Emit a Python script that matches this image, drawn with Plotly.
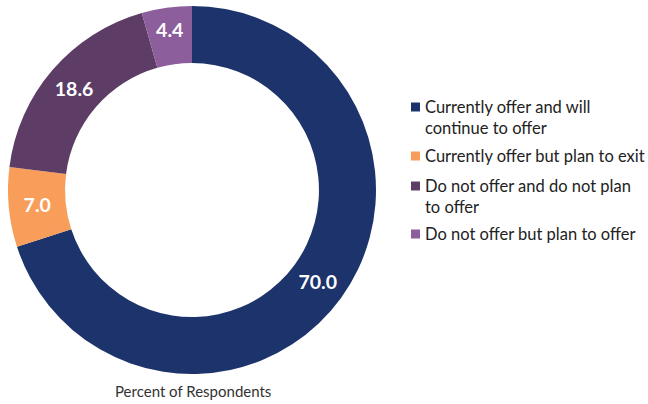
import plotly.graph_objects as go

# Survey response shares (percent of respondents)
categories = [
    "Currently offer and will<br>continue to offer",
    "Currently offer but plan to exit",
    "Do not offer and do not plan<br>to offer",
    "Do not offer but plan to offer",
]
values = [70.0, 7.0, 18.6, 4.4]
colors = ["#1D336B", "#F89D5A", "#5D3D65", "#8C5E9B"]

W, H = 648, 404
FONT = "Lato"

fig = go.Figure(
    go.Pie(
        labels=categories,
        values=values,
        hole=0.69,
        sort=False,
        direction="clockwise",
        rotation=0,
        marker=dict(colors=colors, line=dict(width=0)),
        texttemplate="%{value:.1f}",
        textposition="inside",
        insidetextorientation="horizontal",
        textfont=dict(family=FONT, size=19.5, color="white", weight="bold"),
        hoverinfo="label+value",
        showlegend=False,
        domain=dict(x=[8 / W, 376 / W], y=[1 - 374 / H, 1 - 6 / H]),
    )
)

# Key on the right: colour swatch plus wrapped label for each slice
legend_tops = [107, 156, 186, 234]  # centre of first text line, px from top
for label, color, ytop in zip(categories, colors, legend_tops):
    fig.add_shape(
        type="rect", xref="paper", yref="paper",
        x0=411 / W, x1=420 / W,
        y0=1 - (ytop + 4.5) / H, y1=1 - (ytop - 4.5) / H,
        fillcolor=color, line=dict(width=0),
    )
    fig.add_annotation(
        text=label,
        x=423 / W, y=1 - (ytop - 12) / H,
        xref="paper", yref="paper",
        xanchor="left", yanchor="top", align="left",
        showarrow=False,
        font=dict(family=FONT, size=16.5, color="#222222"),
    )

fig.add_annotation(
    text="Percent of Respondents",
    x=193 / W, y=1 - 391 / H,
    xref="paper", yref="paper",
    xanchor="center", yanchor="middle",
    showarrow=False,
    font=dict(family=FONT, size=15, color="#333333"),
)

fig.update_layout(
    width=W, height=H,
    margin=dict(l=0, r=0, t=0, b=0),
    paper_bgcolor="white",
    plot_bgcolor="white",
    showlegend=False,
)

fig.write_html("out.html")
